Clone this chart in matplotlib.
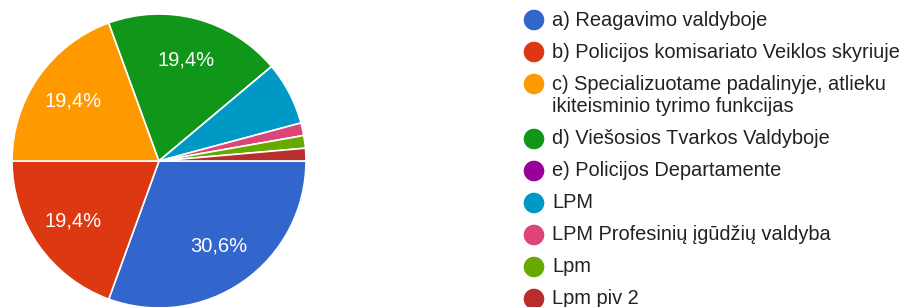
import matplotlib.pyplot as plt

plt.rcParams['font.family'] = ['Liberation Sans', 'DejaVu Sans']

labels = [
    'a) Reagavimo valdyboje',
    'b) Policijos komisariato Veiklos skyriuje',
    'c) Specializuotame padalinyje, atlieku\nikiteisminio tyrimo funkcijas',
    'd) Viešosios Tvarkos Valdyboje',
    'e) Policijos Departamente',
    'LPM',
    'LPM Profesinių įgūdžių valdyba',
    'Lpm',
    'Lpm piv 2',
]
counts = [22, 14, 14, 14, 0, 5, 1, 1, 1]
colors = ['#3366cc', '#dc3912', '#ff9900', '#109618', '#990099',
          '#0099c6', '#dd4477', '#66aa00', '#b82e2e']


def fmt(p):
    # only the big slices get a label, like google forms
    return (f'{p:.1f}%'.replace('.', ',')) if p > 10 else ''


W, H = 908, 307
fig = plt.figure(figsize=(W / 100, H / 100), dpi=100)

# pie, center ~ (159,161) px, radius ~147 px
cx, cy, r = 159, 161, 147
ax = fig.add_axes([(cx - r) / W, (H - cy - r) / H, 2 * r / W, 2 * r / H])
wedges, texts, autotexts = ax.pie(
    counts, colors=colors, startangle=0, counterclock=False,
    autopct=fmt, pctdistance=0.71,
    wedgeprops=dict(edgecolor='white', linewidth=1.2),
    textprops=dict(color='white', fontsize=14.5))
ax.set_xlim(-1, 1)
ax.set_ylim(-1, 1)
ax.set_aspect('equal')
ax.axis('off')

# legend drawn in pixel coords
lax = fig.add_axes([0, 0, 1, 1])
lax.set_xlim(0, W)
lax.set_ylim(H, 0)
lax.axis('off')

y = 20
for lab, col in zip(labels, colors):
    lax.scatter([534], [y], s=220, color=col, edgecolors='none')
    lines = lab.split('\n')
    for k, line in enumerate(lines):
        lax.text(552, y + k * 23, line, fontsize=14.4, color='#222222',
                 va='center', ha='left')
    y += 32 + 23 * (len(lines) - 1)

fig.savefig('out.png', dpi=100)
